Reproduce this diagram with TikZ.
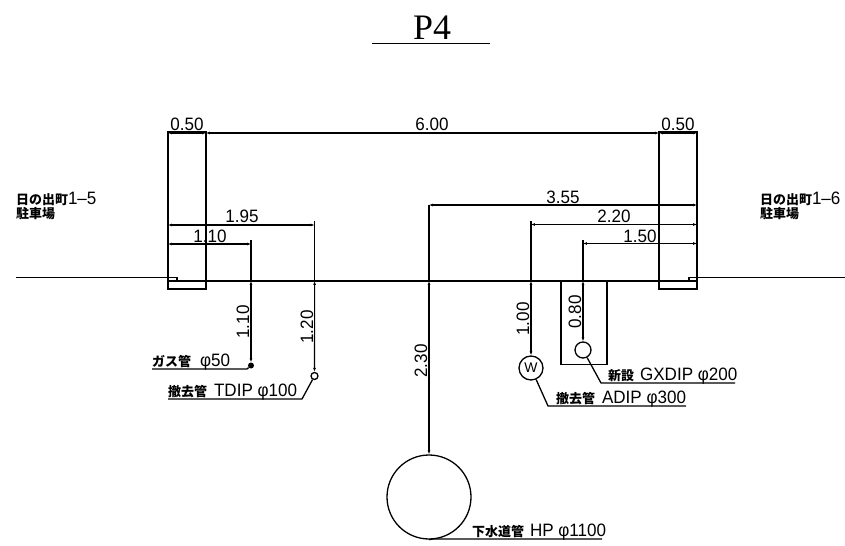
\documentclass[tikz,border=0pt]{standalone}
\usepackage{fontspec}
\setmainfont{Liberation Sans}
\newfontfamily\titlefont{Liberation Serif}
\newfontfamily\cadfont[FakeStretch=0.95]{Liberation Sans}
\newfontfamily\cjkfont{Noto Sans CJK JP}
\usetikzlibrary{arrows.meta}
\tikzset{
  wall/.style={draw,line width=1.3pt},
  dimline/.style={line width=1.1pt,{Latex[length=4pt,width=3pt]}-{Latex[length=4pt,width=3pt]}},
  plainline/.style={line width=1.1pt},
  leader/.style={line width=1.3pt},
  dimtext/.style={font={\cadfont\fontsize{18}{18}\selectfont},inner sep=0pt},
  pipetext/.style={font={\cadfont\fontsize{18}{18}\selectfont},inner sep=0pt,anchor=base west},
  placetext/.style={font={\cadfont\fontsize{18}{14}\selectfont},inner sep=0pt,anchor=north west,align=left},
  pipe/.style={draw,circle,line width=1.3pt,inner sep=0pt}
}
\newcommand{\jp}[2][13]{{\cjkfont\bfseries\fontsize{#1}{#1}\selectfont #2}}
\begin{document}
\begin{tikzpicture}[x=1bp,y=-1bp]
\useasboundingbox (0,0) rectangle (845,546);

% title
\node[font={\titlefont\fontsize{36}{36}\selectfont},inner sep=0pt] (title) at (432,28) {P4};
\coordinate (titlel) at (372,43.5);
\coordinate (titler) at (490,43.5);
\draw[line width=1pt] (titlel) -- (titler);

% ground
\coordinate (groundl) at (16,277.5);
\coordinate (notchl) at (177,277.5);
\coordinate (notchlb) at (177,281);
\coordinate (notchr) at (689,277.5);
\coordinate (notchrb) at (689,281);
\coordinate (groundr) at (845,277.5);
\coordinate (walkll) at (168,281);
\coordinate (walkrr) at (697,281);
\draw[plainline] (groundl) -- (notchl) -- (notchlb);
\draw[plainline] (groundr) -- (notchr) -- (notchrb);
\draw[plainline] (walkll) -- (walkrr);

% sidewalk
\node[wall,minimum width=38bp,minimum height=157bp,inner sep=0pt] (walkl) at (187,210.5) {};
\node[wall,minimum width=38bp,minimum height=157bp,inner sep=0pt] (walkr) at (678,210.5) {};

% trench
\coordinate (trenchl) at (561,281);
\coordinate (trenchbl) at (561,364.5);
\coordinate (trenchbr) at (607,364.5);
\coordinate (trenchr) at (607,281);
\draw[wall] (trenchl) -- (trenchbl) -- (trenchbr) -- (trenchr);

% pipes
\node[pipe,minimum size=84bp] (sewer) at (429,497) {};
\node[pipe,minimum size=16bp] (gxdip) at (583,350) {};
\node[pipe,minimum size=24bp,font={\fontsize{14}{14}\selectfont}] (adip) at (531,368) {W};
\node[pipe,minimum size=7bp] (tdip) at (314.5,376) {};
\node[circle,fill,inner sep=0pt,minimum size=6bp] (gas) at (251,365.5) {};

% top dimensions
\coordinate (d1) at (168,133);
\coordinate (d2) at (206,133);
\coordinate (d3) at (659,133);
\coordinate (d4) at (697,133);
\draw[dimline] (d1) -- (d2);
\draw[dimline] (d2) -- (d3);
\draw[dimline] (d3) -- (d4);
\node[dimtext] (d1t) at (187,124.5) {0.50};
\node[dimtext] (d2t) at (432,124.5) {6.00};
\node[dimtext] (d3t) at (678,124.5) {0.50};

% left dimensions
\coordinate (a195) at (168,225);
\coordinate (b195) at (314.6,225);
\coordinate (c195) at (314.6,221);
\coordinate (e195) at (314.6,281);
\coordinate (a110) at (168,244);
\coordinate (b110) at (251,244);
\coordinate (c110) at (251,240);
\coordinate (e110) at (251,281);
\draw[dimline] (a195) -- (b195);
\draw[dimline] (a110) -- (b110);
\draw[plainline] (c195) -- (e195);
\draw[plainline] (c110) -- (e110);
\node[dimtext] (a195t) at (242,216.5) {1.95};
\node[dimtext] (a110t) at (210,236.5) {1.10};

% right dimensions
\coordinate (a355) at (697,205);
\coordinate (b355) at (429,205);
\coordinate (e355) at (429,281);
\coordinate (a220) at (697,224.5);
\coordinate (b220) at (531,224.5);
\coordinate (c220) at (531,221);
\coordinate (e220) at (531,281);
\coordinate (a150) at (697,243.5);
\coordinate (b150) at (583,243.5);
\coordinate (c150) at (583,240);
\coordinate (e150) at (583,281);
\draw[dimline] (a355) -- (b355);
\draw[dimline] (a220) -- (b220);
\draw[dimline] (a150) -- (b150);
\draw[plainline] (b355) -- (e355);
\draw[plainline] (c220) -- (e220);
\draw[plainline] (c150) -- (e150);
\node[dimtext] (a355t) at (563,197.5) {3.55};
\node[dimtext] (a220t) at (614,216.5) {2.20};
\node[dimtext] (a150t) at (640,236) {1.50};

% depths
\draw[dimline] (e110) -- (gas);
\draw[dimline] (e195) -- (tdip);
\draw[dimline] (e355) -- (sewer);
\draw[dimline] (e220) -- (adip);
\draw[dimline] (e150) -- (gxdip);
\node[dimtext,rotate=90] (gast) at (243,322) {1.10};
\node[dimtext,rotate=90] (tdipt) at (307,327) {1.20};
\node[dimtext,rotate=90] (sewert) at (421,361) {2.30};
\node[dimtext,rotate=90] (adipt) at (523,319) {1.00};
\node[dimtext,rotate=90] (gxdipt) at (575,312) {0.80};

% leaders
\coordinate (gasb) at (247,369);
\coordinate (gase) at (152,369);
\coordinate (tdipb) at (302,399);
\coordinate (tdipe) at (168,399);
\coordinate (gxdipb) at (601,383);
\coordinate (gxdipe) at (735,383);
\coordinate (adipb) at (548,406);
\coordinate (adipe) at (686,406);
\coordinate (sewerb) at (433,539);
\coordinate (sewere) at (602,539);
\draw[leader] (gas) -- (gasb) -- (gase);
\draw[leader] (tdip) -- (tdipb) -- (tdipe);
\draw[leader] (gxdip) -- (gxdipb) -- (gxdipe);
\draw[leader] (adip) -- (adipb) -- (adipe);
\draw[leader] (sewer.south) -- (sewerb) -- (sewere);

% pipe labels
\node[pipetext] (gasl) at (152,366) {\jp{ガス管}\hspace{9bp}φ50};
\node[pipetext] (tdipl) at (168,396) {\jp{撤去管}\hspace{7bp}TDIP φ100};
\node[pipetext] (gxdipl) at (608,380) {\jp{新設}\hspace{6bp}GXDIP φ200};
\node[pipetext] (adipl) at (556,403) {\jp{撤去管}\hspace{7bp}ADIP φ300};
\node[pipetext] (sewerl) at (472,536) {\jp{下水道管}\hspace{6bp}HP φ1100};

% places
\node[placetext] (placel) at (16,192) {\jp{日の出町}1–5\\\jp{駐車場}};
\node[placetext] (placer) at (760,192) {\jp{日の出町}1–6\\\jp{駐車場}};
\end{tikzpicture}
\end{document}
